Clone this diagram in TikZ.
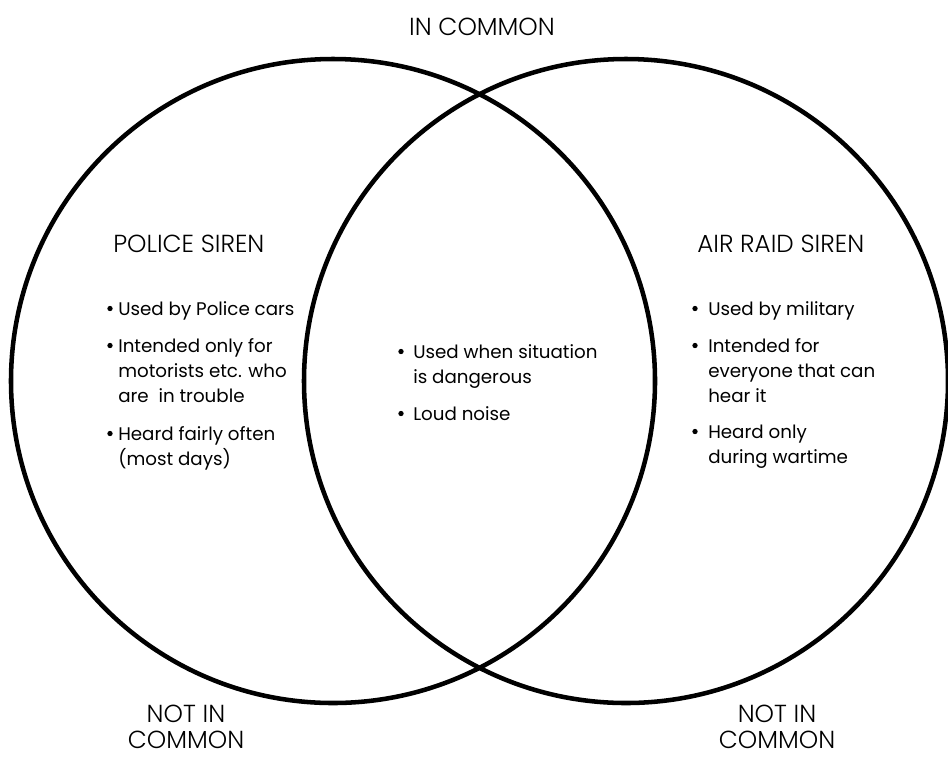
\documentclass[tikz,border=0pt]{standalone}
\usepackage{fontspec}
\setmainfont{Poppins}
\newfontfamily\headfont{Poppins Light}
\begin{document}
\begin{tikzpicture}[x=0.75pt,y=-0.75pt,
  ring/.style={line width=3.4pt,black},
  body/.style={font=\fontsize{13.7}{17}\selectfont, anchor=base west, inner sep=0pt, text=black},
  head/.style={font=\headfont\fontsize{18.5}{22}\selectfont, anchor=base west, inner sep=0pt, text=black},
  headc/.style={font=\headfont\fontsize{18.5}{22}\selectfont, anchor=base, inner sep=0pt, text depth=0pt, text=black},
  bul/.style={circle, fill=black, inner sep=0pt, minimum size=4pt}]
\useasboundingbox (0,0) rectangle (948,758);
% circles
\node[circle, minimum size=0pt, inner sep=0pt] (cl) at (333,381) {};
\node[circle, minimum size=0pt, inner sep=0pt] (cr) at (626,381) {};
\draw[ring] (cl) circle[radius=322];
\draw[ring] (cr) circle[radius=322];
% top label
\node[headc] (incommon) at (482,35) {IN COMMON};
% bottom labels
\node[headc] (nl1) at (186,722) {NOT IN};
\node[headc] (nl2) at (186,748) {COMMON};
\node[headc] (nr1) at (777,722) {NOT IN};
\node[headc] (nr2) at (777,748) {COMMON};
% left
\node[head] (tl) at (113,252) {POLICE SIREN};
\node[bul] (lb1) at (110,308.5) {};
\node[body] (l1) at (118,315) {Used by Police cars};
\node[bul] (lb2) at (110,345.5) {};
\node[body] (l2) at (118,352) {Intended only for};
\node[body] (l3) at (118,377) {motorists etc. who};
\node[body] (l4) at (118,402) {are\ \ in trouble};
\node[bul] (lb3) at (110,433.5) {};
\node[body] (l5) at (118,440) {Heard fairly often};
\node[body] (l6) at (118,465) {(most days)};
% centre
\node[bul] (cb1) at (401,351.5) {};
\node[body] (c1) at (413,358) {Used when situation};
\node[body] (c2) at (413,383) {is dangerous};
\node[bul] (cb2) at (401,413.5) {};
\node[body] (c3) at (413,420) {Loud noise};
% right
\node[head] (tr) at (697,252) {AIR RAID SIREN};
\node[bul] (rb1) at (695,308.5) {};
\node[body] (r1) at (708,315) {Used by military};
\node[bul] (rb2) at (695,345.5) {};
\node[body] (r2) at (708,352) {Intended for};
\node[body] (r3) at (708,377) {everyone that can};
\node[body] (r4) at (708,402) {hear it};
\node[bul] (rb3) at (695,431.5) {};
\node[body] (r5) at (708,438) {Heard only};
\node[body] (r6) at (708,463) {during wartime};
\end{tikzpicture}
\end{document}
